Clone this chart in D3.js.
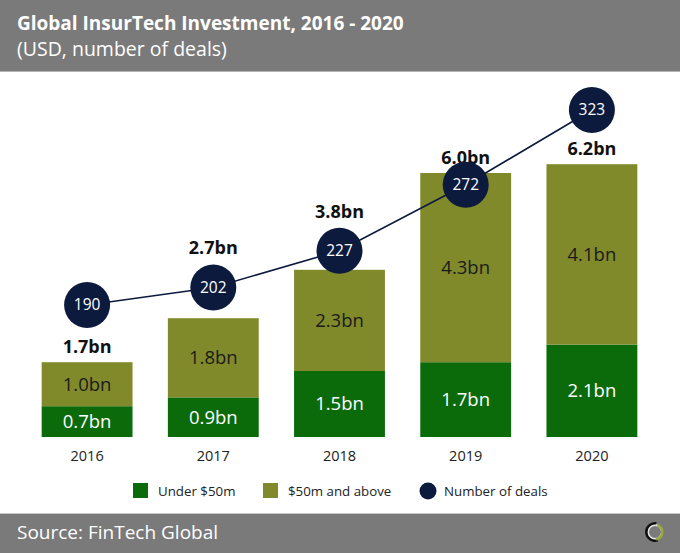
<!DOCTYPE html>
<html>
<head>
<meta charset="utf-8">
<script src="https://cdn.jsdelivr.net/npm/d3@7"></script>
<style>
  body { margin: 0; background: #fff; }
  text { font-family: "Open Sans", sans-serif; }
</style>
</head>
<body>
<script>
var svgWidth = 680;
var svgHeight = 553;

// data
var years = ['2016', '2017', '2018', '2019', '2020'];
var under50 = [0.7, 0.9, 1.5, 1.7, 2.1];
var above50 = [1.0, 1.8, 2.3, 4.3, 4.1];
var totals = [1.7, 2.7, 3.8, 6.0, 6.2];
var deals = [190, 202, 227, 272, 323];
var legendLabels = ['Under $50m', '$50m and above', 'Number of deals'];

var green = '#0b6b0b';
var olive = '#808a2b';
var navy = '#0c1a3e';
var gray = '#7a7a7a';

var svg = d3.select('body').append('svg')
  .attr('width', svgWidth)
  .attr('height', svgHeight);

// header
svg.append('rect').attr('x', 0).attr('y', 0).attr('width', svgWidth).attr('height', 71).attr('fill', gray);
svg.append('rect').attr('x', 0).attr('y', 71).attr('width', svgWidth).attr('height', 1).attr('fill', '#b5b5b5');
svg.append('text').attr('x', 17).attr('y', 30)
  .attr('fill', '#fff').attr('font-size', 19).attr('font-weight', 'bold')
  .text('Global InsurTech Investment, 2016 - 2020');
svg.append('text').attr('x', 17).attr('y', 56)
  .attr('fill', '#fff').attr('font-size', 19.5)
  .text('(USD, number of deals)');

// footer
svg.append('rect').attr('x', 0).attr('y', 513).attr('width', svgWidth).attr('height', 1).attr('fill', '#c8c8c8');
svg.append('rect').attr('x', 0).attr('y', 514).attr('width', svgWidth).attr('height', svgHeight - 514).attr('fill', gray);
svg.append('text').attr('x', 17).attr('y', 539)
  .attr('fill', '#fff').attr('font-size', 19)
  .text('Source: FinTech Global');

// little logo ring
var logo = svg.append('g').attr('transform', 'translate(655,532)');
logo.append('circle').attr('r', 7).attr('fill', 'none').attr('stroke', '#e8e8e8').attr('stroke-width', 2);
logo.append('path')
  .attr('d', d3.arc().innerRadius(7.5).outerRadius(10).startAngle(Math.PI * 0.9).endAngle(Math.PI * 2.05)())
  .attr('fill', '#111');
logo.append('path')
  .attr('d', d3.arc().innerRadius(6).outerRadius(8.5).startAngle(Math.PI * 0.1).endAngle(Math.PI * 0.95)())
  .attr('fill', '#9aa83a');

// scales
var x = d3.scaleBand().domain(years).range([24, 655]).paddingInner(0.28).paddingOuter(0.14);
var y = d3.scaleLinear().domain([0, 8]).range([437, 85]);
var yDeals = d3.scaleLinear().domain([100, 350]).range([437, 70.4]);
var R = 23;

var rows = years.map(function(yr, i){
  return {year: yr, under: under50[i], above: above50[i], total: totals[i], deals: deals[i]};
});

// total label sits above the bar, or above the deal circle when they would collide
function totalY(d){
  var base = y(d.total) - 9;
  var cy = yDeals(d.deals);
  if (cy - R < base - 6 && cy + R > base - 17) base = cy - R - 10;
  return base;
}

var bars = svg.append('g').selectAll('g').data(rows).enter().append('g');

bars.append('rect')
  .attr('x', function(d){ return x(d.year); })
  .attr('y', function(d){ return y(d.under); })
  .attr('width', x.bandwidth())
  .attr('height', function(d){ return y(0) - y(d.under); })
  .attr('fill', green);

bars.append('rect')
  .attr('x', function(d){ return x(d.year); })
  .attr('y', function(d){ return y(d.under + d.above); })
  .attr('width', x.bandwidth())
  .attr('height', function(d){ return y(d.under) - y(d.under + d.above); })
  .attr('fill', olive);

bars.append('text')
  .attr('x', function(d){ return x(d.year) + x.bandwidth()/2; })
  .attr('y', function(d){ return (y(0) + y(d.under))/2; })
  .attr('dy', '0.35em').attr('text-anchor', 'middle')
  .attr('font-size', 18.5).attr('fill', '#fff')
  .text(function(d){ return d.under.toFixed(1) + 'bn'; });

bars.append('text')
  .attr('x', function(d){ return x(d.year) + x.bandwidth()/2; })
  .attr('y', function(d){ return (y(d.under) + y(d.under + d.above))/2; })
  .attr('dy', '0.35em').attr('text-anchor', 'middle')
  .attr('font-size', 18.5).attr('fill', '#1a1a1a')
  .text(function(d){ return d.above.toFixed(1) + 'bn'; });

bars.append('text')
  .attr('x', function(d){ return x(d.year) + x.bandwidth()/2; })
  .attr('y', totalY)
  .attr('text-anchor', 'middle')
  .attr('font-size', 18).attr('font-weight', 'bold').attr('fill', '#111')
  .text(function(d){ return d.total.toFixed(1) + 'bn'; });

// year axis
var xAxis = svg.append('g').attr('transform', 'translate(0,437)')
  .call(d3.axisBottom(x).tickSize(0).tickPadding(14));
xAxis.select('.domain').remove();
xAxis.selectAll('text').attr('font-size', 14.5).attr('fill', '#222')
  .attr('font-family', '"Open Sans", sans-serif');

// deals line
var line = d3.line()
  .x(function(d){ return x(d.year) + x.bandwidth()/2; })
  .y(function(d){ return yDeals(d.deals); });

svg.append('path').datum(rows)
  .attr('d', line)
  .attr('fill', 'none').attr('stroke', navy).attr('stroke-width', 1.6);

var dots = svg.append('g').selectAll('g').data(rows).enter().append('g')
  .attr('transform', function(d){ return 'translate(' + (x(d.year) + x.bandwidth()/2) + ',' + yDeals(d.deals) + ')'; });
dots.append('circle').attr('r', R).attr('fill', navy);
dots.append('text').attr('text-anchor', 'middle').attr('dy', '0.35em')
  .attr('font-size', 15.5).attr('fill', '#fff')
  .text(function(d){ return d.deals; });

// legend
var legendX = [133, 263, 428];
var legend = svg.append('g').selectAll('g').data(legendLabels).enter().append('g')
  .attr('transform', function(d, i){ return 'translate(' + legendX[i] + ',491)'; });
legend.each(function(d, i){
  var g = d3.select(this);
  if (i < 2) {
    g.append('rect').attr('x', 0).attr('y', -8).attr('width', 15).attr('height', 15)
      .attr('fill', i === 0 ? green : olive);
    g.append('text').attr('x', 25).attr('dy', '0.35em');
  } else {
    g.append('circle').attr('cx', 0).attr('r', 8.5).attr('fill', navy);
    g.append('text').attr('x', 16).attr('dy', '0.35em');
  }
  g.select('text').attr('font-size', 13.3).attr('fill', '#222').text(d);
});
</script>
</body>
</html>
